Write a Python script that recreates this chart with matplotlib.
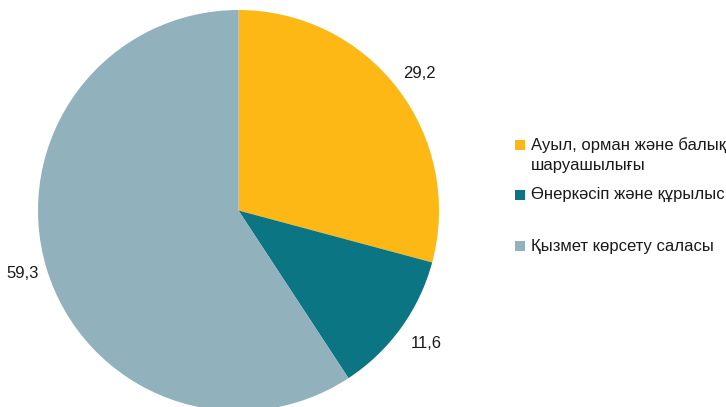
import matplotlib
matplotlib.use("Agg")
import matplotlib.pyplot as plt
from matplotlib.patches import Rectangle

plt.rcParams['font.family'] = ['Liberation Sans', 'DejaVu Sans']

categories = ["Ауыл, орман және балық\nшаруашылығы",
              "Өнеркәсіп және құрылыс",
              "Қызмет көрсету саласы"]
values = [29.2, 11.6, 59.3]
value_labels = ["29,2", "11,6", "59,3"]
colors = ["#FDB815", "#0B7583", "#91B1BD"]

W, H = 726, 407
fig = plt.figure(figsize=(W / 100, H / 100), dpi=100)

# pie axes: center (238.5, 210.5) px from top-left, radius 200.5 px
cx, cy, r = 238.5, 210.5, 200.5
ax = fig.add_axes([(cx - r) / W, (H - cy - r) / H, 2 * r / W, 2 * r / H])
ax.pie(values, colors=colors, startangle=90, counterclock=False, radius=1,
       wedgeprops=dict(linewidth=0))
ax.set_xlim(-1, 1)
ax.set_ylim(-1, 1)
ax.set_aspect('auto')
ax.axis('off')

# value labels (pixel positions)
label_pos = [(419.5, 73), (426, 343), (22.5, 274)]
for (px, py), t in zip(label_pos, value_labels):
    fig.text(px / W, 1 - py / H, t, ha='center', va='center', fontsize=12, color='#1a1a1a')

# legend
legend_y = [145, 195, 246]
for c, lab, ly in zip(colors, categories, legend_y):
    fig.patches.append(Rectangle(((515) / W, 1 - (ly + 5) / H), 10 / W, 10 / H,
                                 transform=fig.transFigure, facecolor=c, edgecolor='none'))
    lines = lab.split("\n")
    for i, ln in enumerate(lines):
        fig.text(531 / W, 1 - (ly + i * 21) / H, ln, ha='left', va='center',
                 fontsize=12, color='#1a1a1a')

fig.savefig("out.png", dpi=100)
